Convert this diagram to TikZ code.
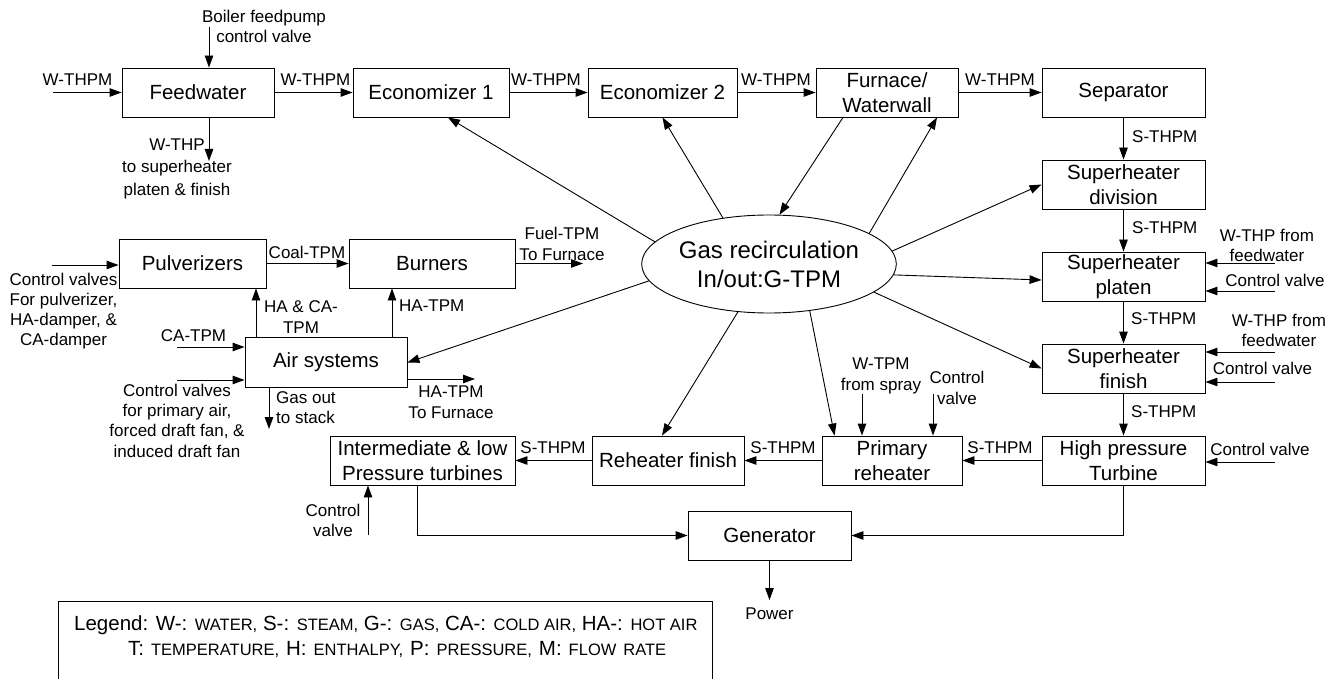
\documentclass[tikz,border=0pt]{standalone}
\usepackage{fontspec}
\setmainfont{Liberation Sans}
\usetikzlibrary{arrows.meta,shapes.geometric,calc}
\newcommand\legsmall[1]{{\fontsize{16.5}{20}\selectfont #1}}
\begin{document}
\begin{tikzpicture}[x=1pt,y=-1pt,
  box/.style={draw, line width=0.9pt, inner sep=0pt, align=center,
    minimum height=49pt, font=\fontsize{20.5}{24.5}\selectfont},
  lbl/.style={inner sep=0pt, align=center, font=\fontsize{17}{20.5}\selectfont},
  flow/.style={line width=0.9pt, -{Triangle[length=12pt,width=8.5pt]}},
  wire/.style={line width=0.9pt}]
\useasboundingbox (0,0) rectangle (1336,679);

% ---- top row: water path
\node[box, minimum width=152pt] (feed)  at (198,92.5)   {Feedwater};
\node[box, minimum width=156pt] (econ1) at (431,92.5)   {Economizer 1};
\node[box, minimum width=149pt] (econ2) at (662.5,92.5) {Economizer 2};
\node[box, minimum width=142pt] (furn)  at (887,92.5)   {Furnace/\\Waterwall};
\node[box, minimum width=163pt] (sep)   at (1123.5,92.5){Separator};

% ---- right column: superheaters and HP turbine
\node[box, minimum width=163pt] (shdiv) at (1123.5,184.5) {Superheater\\division};
\node[box, minimum width=163pt] (shpla) at (1123.5,276.5) {Superheater\\platen};
\node[box, minimum width=163pt] (shfin) at (1123.5,368.5) {Superheater\\finish};
\node[box, minimum width=163pt] (hp)    at (1123.5,460.5) {High pressure\\Turbine};

% ---- bottom row: reheat path and turbines
\node[box, minimum width=140pt] (prim)  at (892,460.5)   {Primary\\reheater};
\node[box, minimum width=152pt] (reh)   at (668,460.5)   {Reheater finish};
\node[box, minimum width=185pt] (inter) at (422.5,460.5) {Intermediate \& low\\Pressure turbines};
\node[box, minimum width=163pt] (gen)   at (769.5,535.5) {Generator};

% ---- left side: fuel and air
\node[box, minimum width=147pt] (pulv) at (192.5,263.5) {Pulverizers};
\node[box, minimum width=166pt] (burn) at (432,263.5)   {Burners};
\node[box, minimum width=162pt, minimum height=50pt] (air) at (326,362.5) {Air systems};

% ---- central gas recirculation
\node[draw, ellipse, line width=0.9pt, inner sep=0pt, minimum width=214pt,
      minimum height=98pt, align=center, font=\fontsize{24}{29}\selectfont]
      (gas) at (769,264) {Gas recirculation\\In/out:G-TPM};

% ---- water path connectors
\coordinate (fin) at (53,92.5);
\draw[flow] (fin) -- (feed);
\node[lbl] (lfin) at (77.5,80) {W-THPM};

\coordinate (bfp) at (209,27);
\draw[flow] (bfp) -- (bfp |- feed.north);
\node[lbl, font=\fontsize{17}{20}\selectfont] (lbfp) at (264,26) {Boiler feedpump\\control valve};

\coordinate (fdo) at (209,161);
\draw[flow] (fdo |- feed.south) -- (fdo);
\node[lbl, font=\fontsize{17}{22.5}\selectfont] (lfdo) at (177,168.5) {W-THP\\to superheater\\platen \& finish};

\draw[flow] (feed) -- (econ1);
\node[lbl] (l1) at (315.5,80) {W-THPM};
\draw[flow] (econ1) -- (econ2);
\node[lbl] (l2) at (546,80) {W-THPM};
\draw[flow] (econ2) -- (furn);
\node[lbl] (l3) at (776,80) {W-THPM};
\draw[flow] (furn) -- (sep);
\node[lbl] (l4) at (1000,80) {W-THPM};

% ---- steam path down the right column
\draw[flow] (sep) -- (shdiv);
\node[lbl, anchor=west] (l5) at (1132,137) {S-THPM};
\draw[flow] (shdiv) -- (shpla);
\node[lbl, anchor=west] (l6) at (1132,228) {S-THPM};
\draw[flow] (shpla) -- (shfin);
\node[lbl, anchor=west] (l7) at (1131,319) {S-THPM};
\draw[flow] (shfin) -- (hp);
\node[lbl, anchor=west] (l8) at (1131,412) {S-THPM};

% ---- spray water and control valves on the right
\node[lbl] (lwp1) at (1267,245.5) {W-THP from\\feedwater};
\coordinate (wp1) at (1275,263);
\draw[flow] (wp1) -- (wp1 -| shpla.east);
\node[lbl] (lcp1) at (1275,280) {Control valve};
\coordinate (cp1) at (1275,291);
\draw[flow] (cp1) -- (cp1 -| shpla.east);

\node[lbl] (lwp2) at (1279,330.5) {W-THP from\\feedwater};
\coordinate (wp2) at (1275,352);
\draw[flow] (wp2) -- (wp2 -| shfin.east);
\node[lbl] (lcp2) at (1262.5,368) {Control valve};
\coordinate (cp2) at (1275,382);
\draw[flow] (cp2) -- (cp2 -| shfin.east);

\node[lbl] (lcp3) at (1260,449) {Control valve};
\coordinate (cp3) at (1275,462);
\draw[flow] (cp3) -- (cp3 -| hp.east);

% ---- reheat path
\draw[flow] (hp) -- (prim);
\node[lbl] (l9) at (1000,448) {S-THPM};
\draw[flow] (prim) -- (reh);
\node[lbl] (l10) at (783,448) {S-THPM};
\draw[flow] (reh) -- (inter);
\node[lbl] (l11) at (553,448) {S-THPM};

\node[lbl] (lws) at (881,376) {W-TPM\\from spray};
\coordinate (ws) at (862,394);
\draw[flow] (ws) -- (ws |- prim.north);
\node[lbl] (lcpr) at (957,388) {Control\\valve};
\coordinate (cpr) at (933,394);
\draw[flow] (cpr) -- (cpr |- prim.north);

% ---- turbines to generator
\draw[flow] (hp.south) |- (gen.east);
\draw[flow] ([xshift=-5pt]inter.south) |- (gen.west);
\coordinate (cvi) at (368,535);
\draw[flow] (cvi) -- (cvi |- inter.south);
\node[lbl] (lcvi) at (333,520.5) {Control\\valve};
\coordinate (pw) at (769.5,600);
\draw[flow] (gen) -- (pw);
\node[lbl] (lpw) at (769.5,614) {Power};

% ---- fuel and air connectors
\coordinate (pin) at (52,265);
\draw[flow] (pin) -- (pin -| pulv.west);
\node[lbl, font=\fontsize{17}{20}\selectfont] (lpin) at (63.5,311)
  {Control valves\\For pulverizer,\\HA-damper, \&\\CA-damper};

\draw[flow] (pulv) -- (burn);
\node[lbl] (lcoal) at (307,252) {Coal-TPM};
\coordinate (fuel) at (583,263.5);
\draw[flow] (burn) -- (fuel);
\node[lbl] (lfuel) at (562,244) {Fuel-TPM\\To Furnace};

\draw[flow] ([xshift=-70pt]air.north) -- ([xshift=-70pt]air.north |- pulv.south);
\node[lbl] (lhaca) at (301,317) {HA \& CA-\\TPM};
\draw[flow] ([xshift=66pt]air.north) -- ([xshift=66pt]air.north |- burn.south);
\node[lbl, anchor=west] (lha) at (399,306) {HA-TPM};

\coordinate (ca) at (177,347);
\draw[flow] (ca) -- (ca -| air.west);
\node[lbl] (lca) at (193.5,336) {CA-TPM};
\coordinate (cvp) at (177,380);
\draw[flow] (cvp) -- (cvp -| air.west);
\node[lbl, font=\fontsize{17}{20.3}\selectfont] (lcvp) at (177,420.5)
  {Control valves\\for primary air,\\forced draft fan, \&\\induced draft fan};

\coordinate (go) at (269,429);
\draw[flow] (go |- air.south) -- (go);
\node[lbl, align=left, anchor=west] (lgo) at (276,407.5) {Gas out\\to stack};

\coordinate (hatf) at (475,379);
\draw[flow] (hatf -| air.east) -- (hatf);
\node[lbl] (lhatf) at (451,402) {HA-TPM\\To Furnace};

% ---- gas recirculation links
\draw[flow] (gas.169) -- ([xshift=17pt]econ1.south);
\draw[flow] (gas.135) -- (econ2.south);
\draw[flow] ([xshift=-44pt]furn.south) -- (gas.78);
\draw[flow] (gas.17.5) -- ([xshift=50pt]furn.south);
\draw[flow] (gas.6.5) -- (shdiv.west);
\draw[flow] (gas.-5.3) -- ([yshift=-3.5pt]shpla.west);
\draw[flow] (gas.-15.5) -- (shfin.west);
\draw[flow] (gas.-49.7) -- ([xshift=13pt]prim.north west);
\draw[flow] (gas.-123.7) -- ([xshift=-6pt]reh.north);
\draw[flow] (gas.-172.9) -- (air.east);

% ---- legend
\node[draw, line width=0.9pt, minimum width=654pt, minimum height=100pt,
      anchor=north west, inner sep=0pt] (legend) at (58,601) {};
\node[inner sep=0pt, anchor=west, font=\fontsize{20.5}{24}\selectfont] (leg1) at (74,625)
  {Legend: W-: \legsmall{WATER,} S-: \legsmall{STEAM,} G-: \legsmall{GAS,} CA-: \legsmall{COLD AIR,} HA-: \legsmall{HOT AIR}};
\node[inner sep=0pt, anchor=west, font=\fontsize{20.5}{24}\selectfont] (leg2) at (128,649)
  {\spaceskip=7pt T: \legsmall{\spaceskip=7pt TEMPERATURE,} H: \legsmall{\spaceskip=7pt ENTHALPY,} P: \legsmall{\spaceskip=7pt PRESSURE,} M: \legsmall{\spaceskip=7pt FLOW RATE}};
\end{tikzpicture}
\end{document}
